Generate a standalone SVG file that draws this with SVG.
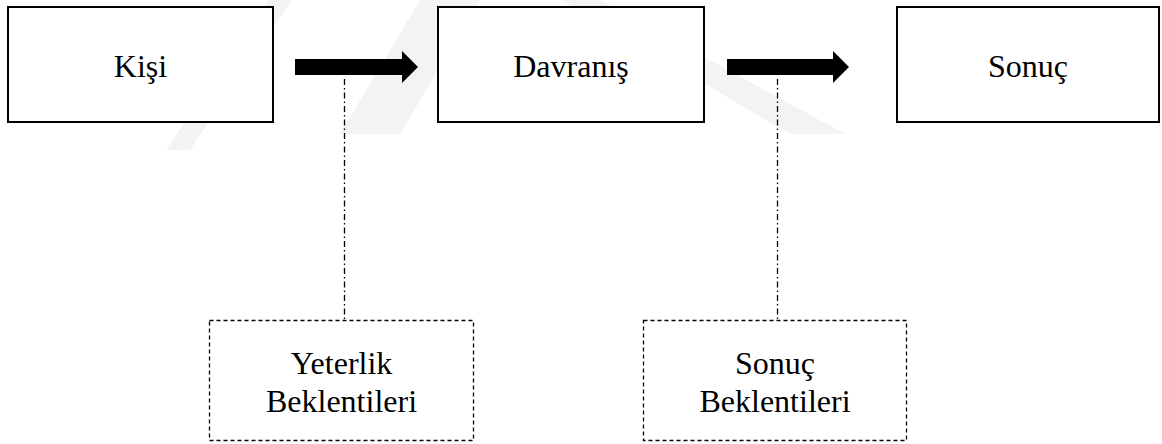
<svg xmlns="http://www.w3.org/2000/svg" width="1162" height="444" viewBox="0 0 1162 444">
<style>
.box{fill:#fff;stroke:#000;stroke-width:2}
.dbox{fill:#fff;stroke:#000;stroke-width:1.3;stroke-dasharray:4 3}
.lbl{font-family:"Liberation Serif","Times New Roman",serif;font-size:32px;fill:#000;text-anchor:middle}
.dd{fill:none;stroke:#000;stroke-width:1.3;stroke-dasharray:6 3 1.5 3}
.arr{fill:#000}
.wm{fill:#f3f3f3}
</style>
<rect width="1162" height="444" fill="#fff"/>
<g id="watermark">
<polygon class="wm" points="268,0 292,0 190,150 166,150"/>
<polygon class="wm" points="420,0 480,0 400,134 340,134"/>
<polygon class="wm" points="562,0 600,0 845,134 790,134"/>
</g>
<g id="connectors">
<polygon class="arr" points="295,59 402,59 402,51 418,67 402,83 402,75 295,75"/>
<polygon class="arr" points="727,59 833,59 833,51 849,67 833,83 833,75 727,75"/>
<line class="dd" x1="344.5" y1="79" x2="344.5" y2="320"/>
<line class="dd" x1="777.5" y1="79" x2="777.5" y2="320"/>
</g>
<g id="kisi">
<rect class="box" x="8" y="7" width="265" height="115"/>
<text class="lbl" x="140.5" y="77">Kişi</text>
</g>
<g id="davranis">
<rect class="box" x="438" y="7" width="266" height="115"/>
<text class="lbl" x="571" y="77">Davranış</text>
</g>
<g id="sonuc">
<rect class="box" x="897" y="7" width="262" height="115"/>
<text class="lbl" x="1028" y="77">Sonuç</text>
</g>
<g id="yeterlik">
<rect class="dbox" x="209.5" y="320.5" width="264" height="120"/>
<text class="lbl" x="341.5" y="374">Yeterlik</text>
<text class="lbl" x="341.5" y="412">Beklentileri</text>
</g>
<g id="sonuc-beklentileri">
<rect class="dbox" x="643.5" y="320.5" width="263" height="120"/>
<text class="lbl" x="775" y="374">Sonuç</text>
<text class="lbl" x="775" y="412">Beklentileri</text>
</g>
</svg>
